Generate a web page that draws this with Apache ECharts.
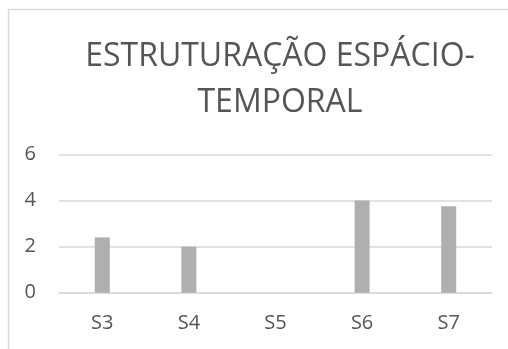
<!DOCTYPE html>
<html>
<head>
<meta charset="utf-8">
<script src="https://cdn.jsdelivr.net/npm/echarts@6/dist/echarts.min.js"></script>
<style>
  html, body { margin: 0; padding: 0; background: #ffffff; }
  #chart { width: 508px; height: 349px; }
</style>
</head>
<body>
<div id="chart"></div>
<script>
// Sessions and scores for the "spatio-temporal structuring" item
const categories = ['S3', 'S4', 'S5', 'S6', 'S7'];
const scores = [2.4, 2, 0, 4, 3.75];
const yTicks = { min: 0, max: 6, interval: 2 };

const FONT = '"Open Sans", sans-serif';
const TEXT = '#555555';
const LINE = '#d9d9d9';

const chart = echarts.init(document.getElementById('chart'), null, { renderer: 'canvas' });

chart.setOption({
  animation: false,
  backgroundColor: '#ffffff',
  title: {
    text: 'ESTRUTURAÇÃO ESPÁCIO-\nTEMPORAL',
    left: 275,
    top: 29,
    textAlign: 'center',
    textStyle: {
      fontFamily: FONT,
      fontSize: 32,
      fontWeight: 'normal',
      color: TEXT,
      lineHeight: 46
    }
  },
  graphic: [{
    type: 'rect',
    silent: true,
    shape: { x: 8.5, y: 9.5, width: 560, height: 400 },
    style: { fill: 'none', stroke: LINE, lineWidth: 1.5 }
  }],
  grid: { left: 59, right: 16, top: 154.5, bottom: 56.3, containLabel: false },
  xAxis: {
    type: 'category',
    data: categories,
    axisLine: { show: true, lineStyle: { color: LINE, width: 1.5 } },
    axisTick: { show: false },
    axisLabel: { color: TEXT, fontFamily: FONT, fontSize: 20, margin: 21 }
  },
  yAxis: {
    type: 'value',
    min: yTicks.min,
    max: yTicks.max,
    interval: yTicks.interval,
    axisLine: { show: false },
    axisTick: { show: false },
    splitLine: { lineStyle: { color: LINE, width: 1.5 } },
    axisLabel: { color: TEXT, fontFamily: FONT, fontSize: 20, margin: 23 }
  },
  series: [{
    type: 'bar',
    data: scores,
    barWidth: 15,
    itemStyle: { color: '#afafaf' }
  }]
});
</script>
</body>
</html>
